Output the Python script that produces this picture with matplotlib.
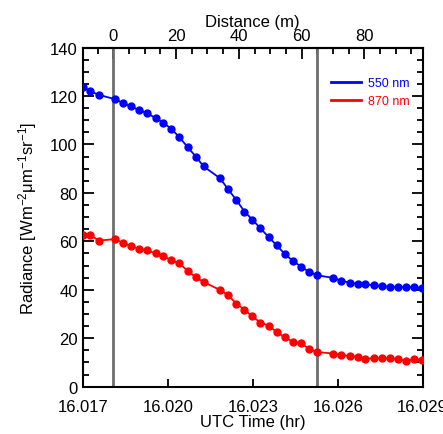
import numpy as np
import matplotlib
matplotlib.use("Agg")
import matplotlib.pyplot as plt
from matplotlib.ticker import MultipleLocator, FixedLocator, FormatStrFormatter, NullLocator

plt.rcParams['font.family'] = ['Liberation Sans', 'DejaVu Sans']
plt.rcParams['mathtext.fontset'] = 'custom'
plt.rcParams['mathtext.rm'] = 'Liberation Sans'
plt.rcParams['mathtext.it'] = 'Liberation Sans'

# 시간 (UTC hr) - 1초 간격, 일부 누락
time_hr = [16.01701, 16.01727, 16.01756, 16.01813, 16.01842, 16.01869, 16.01899, 16.01927,
           16.01957, 16.01985, 16.02013, 16.02041, 16.02071, 16.02099, 16.02127, 16.02185,
           16.02213, 16.02242, 16.02271, 16.02299, 16.02327, 16.02356, 16.02385, 16.02413,
           16.02442, 16.02470, 16.02499, 16.02527, 16.02585, 16.02613, 16.02642, 16.02670,
           16.02698, 16.02727, 16.02755, 16.02784, 16.02813, 16.02841, 16.02871, 16.02898]

rad_550 = [123.8, 121.9, 120.5, 118.7, 117.1, 115.7, 114.2, 112.9, 110.9, 108.9,
           106.4, 103.0, 98.8, 95.0, 90.9, 86.0, 81.5, 77.1, 72.3, 68.9,
           65.4, 61.8, 58.3, 54.8, 51.9, 49.6, 47.4, 46.0, 44.9, 43.7,
           43.0, 42.4, 42.2, 41.9, 41.5, 41.3, 41.2, 41.1, 41.1, 40.6]

rad_870 = [62.8, 62.7, 60.3, 60.9, 59.4, 58.1, 56.9, 56.3, 55.0, 54.0,
           52.1, 51.0, 47.7, 45.2, 43.2, 39.9, 37.8, 34.3, 31.7, 29.0,
           26.5, 25.2, 22.6, 20.4, 18.6, 17.9, 15.7, 14.3, 13.7, 13.0,
           12.7, 12.4, 11.6, 11.7, 11.7, 11.7, 11.4, 10.6, 11.3, 11.0]

# 거리 0 m, 65 m 지점의 시간
t_start = 16.01808
t_end = 16.02528
dist_marks = [0, 65]

def t2d(t):
    return (np.asarray(t) - t_start) * dist_marks[1] / (t_end - t_start)

def d2t(d):
    return np.asarray(d) * (t_end - t_start) / dist_marks[1] + t_start

fig = plt.figure(figsize=(4.43, 4.35), dpi=100)
ax = fig.add_axes([0.1867, 0.1087, 0.7675, 0.7798])

for t in [t_start, t_end]:
    ax.axvline(t, color='#6e6e6e', lw=2, zorder=1)

ax.plot(time_hr, rad_550, '-o', color='blue', ms=5, lw=1.3, label='550 nm', zorder=3)
ax.plot(time_hr, rad_870, '-o', color='red', ms=5, lw=1.3, label='870 nm', zorder=3)

ax.set_xlim(16.017, 16.029)
ax.set_ylim(0, 140)
ax.xaxis.set_major_locator(FixedLocator([16.017, 16.020, 16.023, 16.026, 16.029]))
ax.xaxis.set_major_formatter(FormatStrFormatter('%.3f'))
ax.xaxis.set_minor_locator(NullLocator())
ax.yaxis.set_major_locator(MultipleLocator(20))
ax.yaxis.set_minor_locator(MultipleLocator(5))

ax.tick_params(axis='y', which='both', direction='in', left=True, right=True, labelsize=12, width=1.3)
ax.tick_params(axis='y', which='major', length=8)
ax.tick_params(axis='y', which='minor', length=4)
ax.tick_params(axis='x', which='major', direction='in', top=False, length=6, width=1.3, labelsize=12, pad=9)
for s in ax.spines.values():
    s.set_linewidth(1.5)

ax.set_xlabel('UTC Time (hr)', fontsize=12, labelpad=0)
ax.set_ylabel('Radiance [Wm$^{-2}$μm$^{-1}$sr$^{-1}$]', fontsize=12, labelpad=8)

sec = ax.secondary_xaxis('top', functions=(t2d, d2t))
sec.xaxis.set_major_locator(MultipleLocator(20))
sec.xaxis.set_minor_locator(MultipleLocator(5))
sec.tick_params(which='both', direction='in', labelsize=12, width=1.3, pad=3)
sec.tick_params(which='major', length=8)
sec.tick_params(which='minor', length=4)
sec.spines['top'].set_linewidth(1.5)
sec.set_xlabel('Distance (m)', fontsize=12, labelpad=2)

leg = ax.legend(loc='upper right', bbox_to_anchor=(0.995, 0.945), frameon=False,
                fontsize=9, handlelength=2.4, handletextpad=0.6, labelspacing=0.45)
for line, text in zip(leg.get_lines(), leg.get_texts()):
    line.set_marker('')
    line.set_linewidth(2)
    text.set_color(line.get_color())

fig.savefig('out.png', dpi=100)
